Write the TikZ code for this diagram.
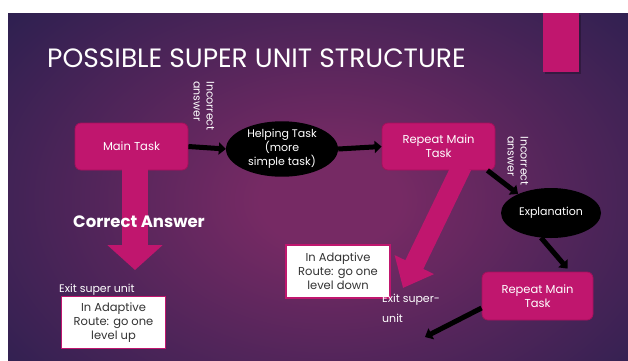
\documentclass[tikz,border=0pt]{standalone}
\usepackage{fontspec}
\setmainfont{Poppins}
\usetikzlibrary{arrows.meta,shapes.geometric}
\definecolor{pinkc}{RGB}{192,22,110}
\definecolor{pinkb}{RGB}{165,16,92}
\definecolor{bgdark}{RGB}{38,31,78}
\definecolor{bgmid}{RGB}{118,42,100}
\colorlet{bgmix}{bgmid!55!bgdark}
\pgfdeclareradialshading{bgglow}{\pgfpoint{0bp}{0bp}}{color(0bp)=(bgmid); color(5bp)=(bgmid); color(17bp)=(bgmix); color(33bp)=(bgdark); color(75bp)=(bgdark)}
\begin{document}
\begin{tikzpicture}[x=1pt,y=-1pt,
  taskbox/.style={draw=pinkb,line width=0.8pt,fill=pinkc,rounded corners=6pt,minimum width=113pt,minimum height=47pt,text=white,font=\fontsize{11.5}{14}\selectfont,align=center,inner sep=2pt},
  ellnode/.style={ellipse,fill=black,text=white,font=\fontsize{11}{14}\selectfont,align=center,inner sep=0pt},
  notebox/.style={draw=pinkc,line width=1.5pt,fill=white,text=black!80,font=\fontsize{11.5}{14}\selectfont,align=center,minimum width=104pt,minimum height=52pt,inner sep=2pt},
  inclabel/.style={rotate=-90,text=white,font=\fontsize{11}{13}\selectfont,align=left,inner sep=0pt},
  whitelabel/.style={text=white,font=\fontsize{11}{20}\selectfont,align=left,inner sep=0pt},
  blackarrow/.style={draw=black,line width=5pt,-{Triangle[width=12pt,length=7pt]}},
  pinkarrow/.style={draw=pinkc,line cap=butt}
]
\useasboundingbox (0,0) rectangle (628,360);
\fill[white] (0,0) rectangle (628,360);
\begin{scope}
\clip (8,13) rectangle (628,360);
\shade[shading=bgglow] (-20,-40) rectangle (680,440);
\end{scope}
% pink tab
\fill[black,opacity=0.25] (545,15) rectangle (581,74);
\fill[pinkc] (543,13) rectangle (579,72);
% title
\node[anchor=west,text=white,font=\fontsize{26.5}{30}\selectfont,inner sep=0pt] (title) at (47,58) {POSSIBLE SUPER UNIT STRUCTURE};
% big pink arrows (under boxes)
\coordinate (tip1) at (135,270);
\coordinate (start2) at (462,166);
\coordinate (tip2) at (403,288);
\node[taskbox] (main) at (131.5,146.5) {Main Task};
\node[taskbox] (rep1) at (438.5,146.5) {Repeat Main\\Task};
\draw[pinkarrow,line width=26pt,-{Triangle[width=54pt,length=25pt]}] ([xshift=3.5pt,yshift=1pt]main.south) -- (tip1);
\draw[pinkarrow,line width=20pt,-{Triangle[width=42pt,length=26pt]}] (start2) -- (tip2);
% ellipses
\node[ellnode,minimum width=112pt,minimum height=48pt] (help) at (282,149) {Helping Task\\(more\\simple task)};
\node[ellnode,minimum width=100pt,minimum height=50pt] (expl) at (551,213) {Explanation};
\node[taskbox,minimum width=111pt,minimum height=48pt] (rep2) at (537.5,296) {Repeat Main\\Task};
% notes
\node[notebox] (ad1) at (113.5,322.5) {In Adaptive\\Route: go one\\level up};
\node[notebox,minimum height=53pt] (ad2) at (338,271.5) {In Adaptive\\Route: go one\\level down};
% labels
\node[inclabel] (inc1) at (204,106) {Incorrect\\answer};
\node[inclabel] (inc2) at (518,161) {Incorrect\\answer};
\node[text=white,font=\bfseries\fontsize{16.5}{18}\selectfont,inner sep=0pt] (corr) at (139,222) {Correct Answer};
\node[whitelabel,anchor=west] (exit1) at (59,290) {Exit super unit};
\node[whitelabel,anchor=north west] (exit2) at (382,294) {Exit super-\\unit};
% black arrows
\coordinate (exitend) at (425,337);
\draw[blackarrow] (main.east) -- (help.west);
\draw[blackarrow] (help.east) -- (rep1.west);
\draw[blackarrow] ([xshift=-8pt]rep1.south east) -- (expl.150);
\draw[blackarrow] (expl.-112) -- ([xshift=30pt,yshift=3pt]rep2.north);
\draw[blackarrow] ([yshift=-12pt]rep2.west) -- (exitend);
\end{tikzpicture}
\end{document}
